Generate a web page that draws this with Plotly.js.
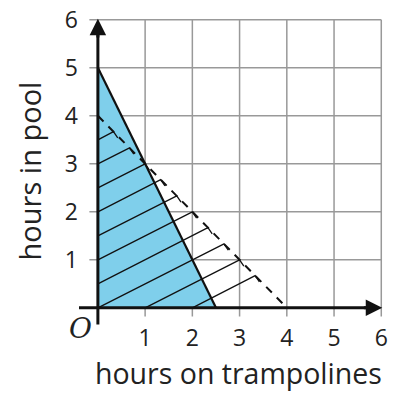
<!DOCTYPE html>
<html>
<head>
<meta charset="utf-8">
<script src="https://cdn.plot.ly/plotly-3.0.1.min.js"></script>
<style>
  html, body { margin: 0; padding: 0; background: #fff; }
  #chart { width: 394px; height: 393px; }
</style>
</head>
<body>
<div id="chart"></div>
<script>
// Region values
const tickVals = [1, 2, 3, 4, 5, 6];
const tickText = ['1', '2', '3', '4', '5', '6'];

// shaded region: x/2.5 + y/5 <= 1
const shadeX = [0, 0, 2.5];
const shadeY = [0, 5, 0];

// solid boundary and dashed boundary
const solidX = [0, 2.5];
const solidY = [5, 0];
const dashX = [0, 4];
const dashY = [4, 0];

// hatch lines, from the axes up to the dashed line
const hatchStartX = [0, 0, 0, 0, 0, 0, 0, 0, 1, 2];
const hatchStartY = [0, 0.5, 1, 1.5, 2, 2.5, 3, 3.5, 0, 0];
const hatchEndX = [2.67, 2.33, 2, 1.67, 1.33, 1, 0.67, 0.33, 3, 3.33];
const hatchEndY = [1.33, 1.67, 2, 2.33, 2.67, 3, 3.33, 3.67, 1, 0.67];

const FONT = 'Open Sans, Noto Sans, sans-serif';

// hatch segments + small hooks at the ends
const hx = [], hy = [];
for (let i = 0; i < hatchStartX.length; i++) {
    hx.push(hatchStartX[i], hatchEndX[i], hatchEndX[i] + 0.09, null);
    hy.push(hatchStartY[i], hatchEndY[i], hatchEndY[i] - 0.13, null);
}

const traces = [
    {
        x: shadeX, y: shadeY, type: 'scatter', mode: 'lines',
        fill: 'toself', fillcolor: '#7fcfeb', line: { width: 0 },
        hoverinfo: 'skip'
    },
    {
        x: hx, y: hy, type: 'scatter', mode: 'lines',
        line: { color: '#111', width: 1.3 }, hoverinfo: 'skip'
    },
    {
        x: dashX, y: dashY, type: 'scatter', mode: 'lines',
        line: { color: '#111', width: 2, dash: '8px,7px' }, hoverinfo: 'skip'
    },
    {
        x: solidX, y: solidY, type: 'scatter', mode: 'lines',
        line: { color: '#111', width: 2.2 }, hoverinfo: 'skip'
    }
];

// grid lines from 0 to 6 with short stubs past the axes
const shapes = [];
for (let v = 0; v <= 6; v++) {
    shapes.push({ type: 'line', layer: 'below', xref: 'x', yref: 'y',
        x0: -0.18, x1: 6, y0: v, y1: v, line: { color: '#999', width: 1.5 } });
    shapes.push({ type: 'line', layer: 'below', xref: 'x', yref: 'y',
        x0: v, x1: v, y0: -0.18, y1: 6, line: { color: '#999', width: 1.5 } });
}
// axis lines
shapes.push({ type: 'line', xref: 'x', yref: 'y', x0: -0.4, x1: 5.8, y0: 0, y1: 0,
    line: { color: '#111', width: 3 } });
shapes.push({ type: 'line', xref: 'x', yref: 'y', x0: 0, x1: 0, y0: -0.35, y1: 5.8,
    line: { color: '#111', width: 3 } });

const layout = {
    width: 394, height: 393,
    margin: { l: 79, r: 8, t: 15, b: 66 },
    paper_bgcolor: '#fff', plot_bgcolor: '#fff',
    showlegend: false,
    font: { family: FONT, color: '#222', size: 22 },
    xaxis: {
        range: [-0.4, 6.1], showgrid: false, zeroline: false, showline: false,
        tickvals: tickVals, ticktext: tickText, ticks: '', ticklabelstandoff: -5,
        tickfont: { size: 23, family: FONT, color: '#222' },
        fixedrange: true
    },
    yaxis: {
        range: [-0.4, 6.1], showgrid: false, zeroline: false, showline: false,
        tickvals: tickVals, ticktext: tickText, ticks: '',
        tickfont: { size: 23, family: FONT, color: '#222' },
        title: { text: 'hours in pool', font: { size: 29, family: FONT, color: '#222' }, standoff: 14 },
        fixedrange: true
    },
    shapes: shapes,
    annotations: [
        { x: 0.52, y: -0.148, xref: 'paper', yref: 'paper', text: 'hours on trampolines',
          showarrow: false, xanchor: 'center', yanchor: 'middle', borderpad: 0,
          font: { size: 28.5, family: FONT, color: '#222' } },
        { x: 6.02, y: 0, ax: 5.6, ay: 0, xref: 'x', yref: 'y', axref: 'x', ayref: 'y',
          showarrow: true, arrowhead: 2, arrowsize: 1.1, arrowwidth: 3, arrowcolor: '#111', text: '' },
        { x: 0, y: 6.02, ax: 0, ay: 5.6, xref: 'x', yref: 'y', axref: 'x', ayref: 'y',
          showarrow: true, arrowhead: 2, arrowsize: 1.1, arrowwidth: 3, arrowcolor: '#111', text: '' },
        { x: -0.3, y: -0.3, xshift: -3, yshift: -6, xref: 'x', yref: 'y', text: '<i>O</i>', showarrow: false,
          font: { family: 'DejaVu Serif, serif', size: 28, color: '#222' } }
    ]
};

Plotly.newPlot('chart', traces, layout, { staticPlot: true, displayModeBar: false });
</script>
</body>
</html>
